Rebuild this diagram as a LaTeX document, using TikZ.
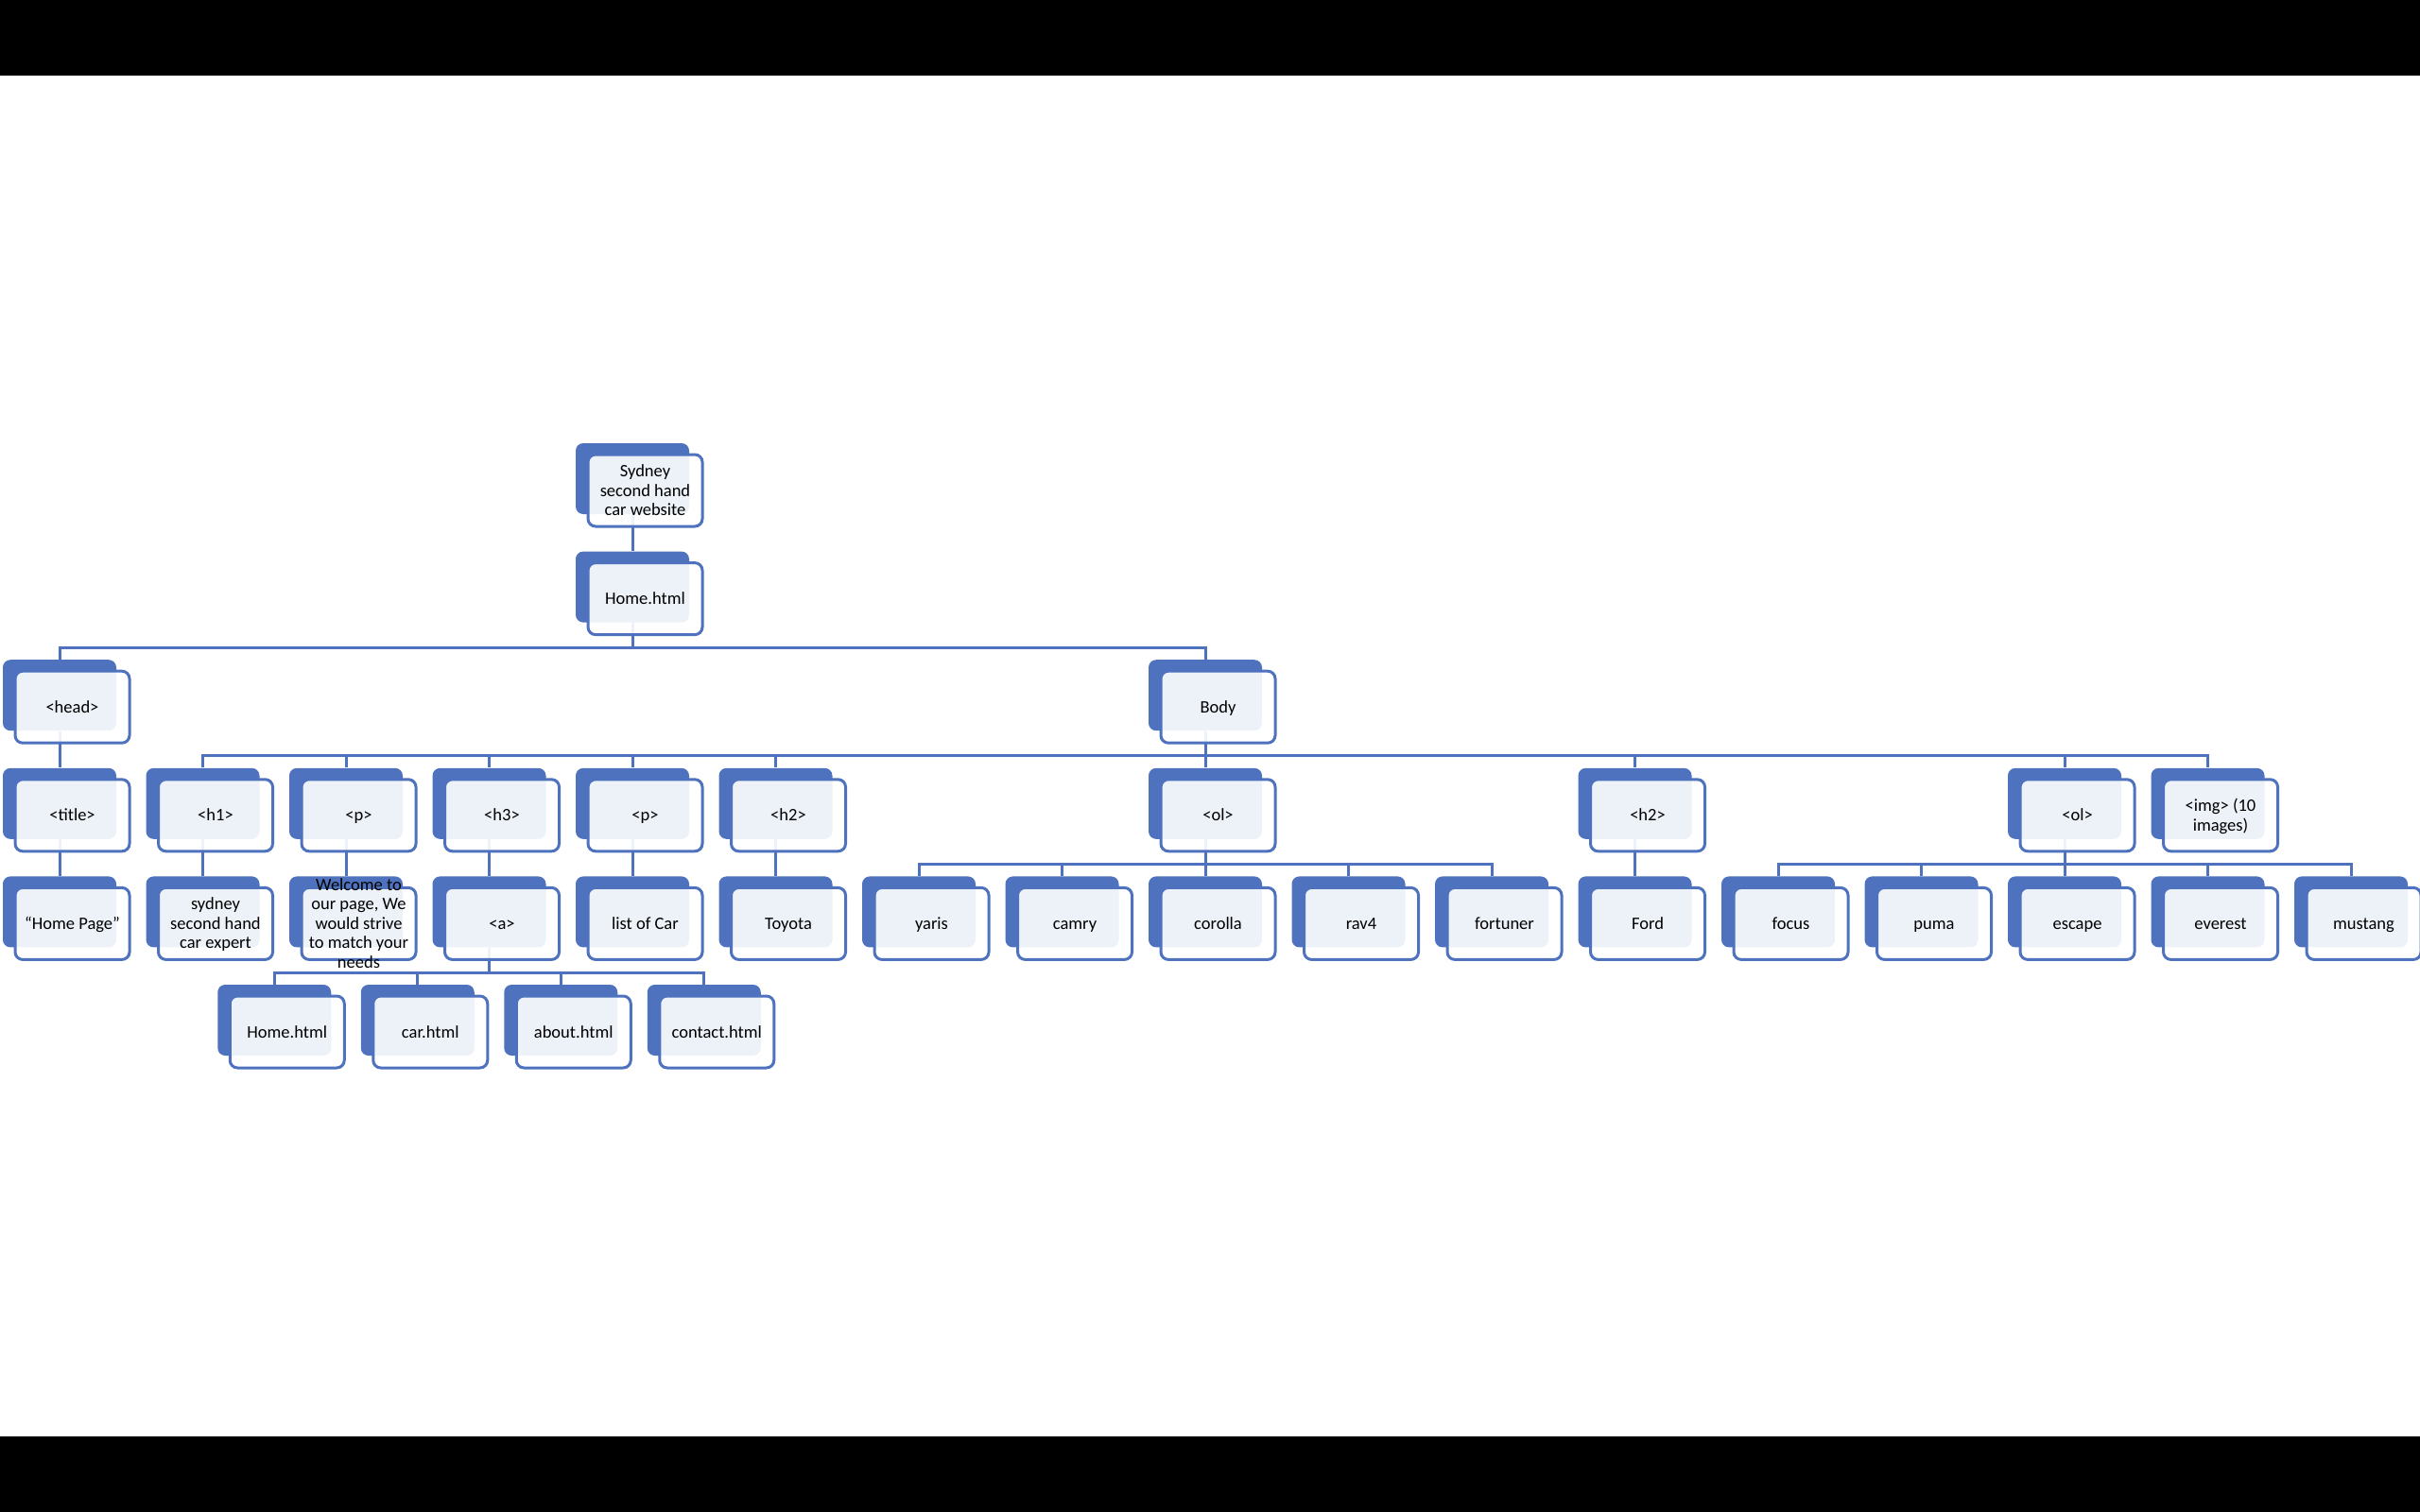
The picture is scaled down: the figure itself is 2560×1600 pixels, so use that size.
\documentclass[tikz,border=0pt]{standalone}
\usepackage{fontspec}
\setmainfont{Carlito}
\pgfdeclarelayer{bg}
\pgfsetlayers{bg,main}
\definecolor{sablue}{RGB}{78,114,190}
\newcommand\mystrut{\rule[-1.6pt]{0pt}{9.2pt}}
\tikzset{
  backbox/.style={shape=rectangle, rounded corners=4pt, fill=sablue, draw=none, inner sep=0pt,
    minimum width=60pt, minimum height=37.5pt},
  frontbox/.style={shape=rectangle, rounded corners=4pt, fill=white, fill opacity=0.9, draw=sablue,
    line width=1.5pt, inner sep=0pt, minimum width=60.5pt, minimum height=38pt},
  txt/.style={align=center, inner sep=0pt, font=\fontsize{9.25}{10.25}\selectfont, text=black},
  conn/.style={draw=sablue, line width=1.5pt},
}
\newcommand\tb[4]{%
  \node[backbox] (#1-b) at ({63+151.5*#2},{506.5+114.6*#3}) {};
  \node[frontbox] (#1) at ([xshift=6.75pt,yshift=-6.25pt]#1-b.center) {};
  \node[txt] (#1-t) at (#1) {\mystrut#4\mystrut};
}
\newcommand\mkbar[1]{\coordinate (#1-bar) at ([yshift=-13.15pt]#1-b.south);}
\begin{document}
\begin{tikzpicture}[x=0.5pt,y=-0.5pt]
\useasboundingbox (0,0) rectangle (2560,1600);
% row 0-2
\tb{syd}{4}{0}{Sydney\\second hand\\car website}
\tb{home}{4}{1}{Home.html}
\tb{head}{0}{2}{<head>}
\tb{body}{8}{2}{Body}
% row 3
\tb{title}{0}{3}{<title>}
\tb{hone}{1}{3}{<h1>}
\tb{pone}{2}{3}{<p>}
\tb{hthree}{3}{3}{<h3>}
\tb{ptwo}{4}{3}{<p>}
\tb{htwoa}{5}{3}{<h2>}
\tb{ola}{8}{3}{<ol>}
\tb{htwob}{11}{3}{<h2>}
\tb{olb}{14}{3}{<ol>}
\tb{img}{15}{3}{<img> (10\\images)}
% row 4
\tb{hp}{0}{4}{“Home Page”}
\tb{expert}{1}{4}{sydney\\second hand\\car expert}
\tb{welcome}{2}{4}{Welcome to\\our page, We\\would strive\\to match your\\needs}
\tb{atag}{3}{4}{<a>}
\tb{list}{4}{4}{list of Car}
\tb{toyota}{5}{4}{Toyota}
\tb{yaris}{6}{4}{yaris}
\tb{camry}{7}{4}{camry}
\tb{corolla}{8}{4}{corolla}
\tb{rav}{9}{4}{rav4}
\tb{fortuner}{10}{4}{fortuner}
\tb{ford}{11}{4}{Ford}
\tb{focus}{12}{4}{focus}
\tb{puma}{13}{4}{puma}
\tb{escape}{14}{4}{escape}
\tb{everest}{15}{4}{everest}
\tb{mustang}{16}{4}{mustang}
% row 5
\tb{lhome}{1.5}{5}{Home.html}
\tb{lcar}{2.5}{5}{car.html}
\tb{labout}{3.5}{5}{about.html}
\tb{lcontact}{4.5}{5}{contact.html}
% background and connectors
\begin{pgfonlayer}{bg}
\fill[white] (0,0) rectangle (2560,1600);
\fill[black] (0,0) rectangle (2560,80);
\fill[black] (0,1520) rectangle (2560,1600);
\draw[conn] (syd-b.south) -- (home-b.north);
\mkbar{home}
\draw[conn] (home-b.south) -- (home-bar);
\foreach \c in {head,body} \draw[conn] (\c-b.north) |- (home-bar);
\draw[conn] (head-b.south) -- (title-b.north);
\mkbar{body}
\draw[conn] (body-b.south) -- (body-bar);
\foreach \c in {hone,pone,hthree,ptwo,htwoa,ola,htwob,olb,img} \draw[conn] (\c-b.north) |- (body-bar);
\draw[conn] (title-b.south) -- (hp-b.north);
\draw[conn] (hone-b.south) -- (expert-b.north);
\draw[conn] (pone-b.south) -- (welcome-b.north);
\draw[conn] (hthree-b.south) -- (atag-b.north);
\draw[conn] (ptwo-b.south) -- (list-b.north);
\draw[conn] (htwoa-b.south) -- (toyota-b.north);
\draw[conn] (htwob-b.south) -- (ford-b.north);
\mkbar{ola}
\draw[conn] (ola-b.south) -- (ola-bar);
\foreach \c in {yaris,camry,corolla,rav,fortuner} \draw[conn] (\c-b.north) |- (ola-bar);
\mkbar{olb}
\draw[conn] (olb-b.south) -- (olb-bar);
\foreach \c in {focus,puma,escape,everest,mustang} \draw[conn] (\c-b.north) |- (olb-bar);
\mkbar{atag}
\draw[conn] (atag-b.south) -- (atag-bar);
\foreach \c in {lhome,lcar,labout,lcontact} \draw[conn] (\c-b.north) |- (atag-bar);
\end{pgfonlayer}
\end{tikzpicture}
\end{document}
